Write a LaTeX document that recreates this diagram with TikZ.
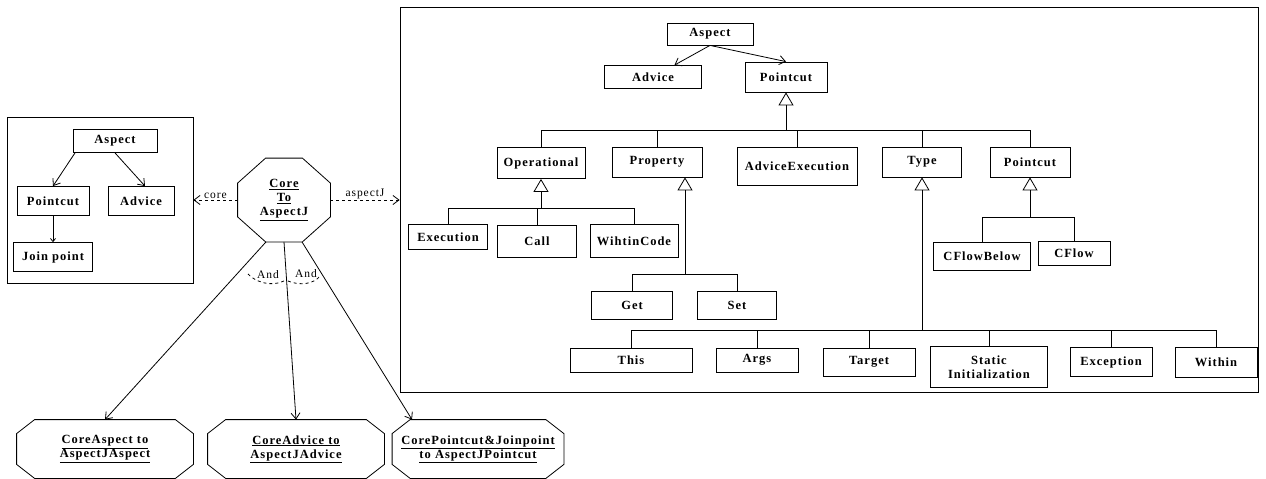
\documentclass[tikz,border=0pt]{standalone}
\usepackage{fontspec}
\setmainfont{Liberation Serif}[LetterSpace=8]
\usetikzlibrary{arrows.meta}

\tikzset{
  cls/.style={draw,line width=0.8pt,inner sep=1pt,align=center},
  oct/.style={align=center,inner sep=0pt},
  inh/.style={-{Triangle[open,length=13pt,width=15pt]}},
  lbl/.style={font=\mdseries\fontsize{11.5}{12}\selectfont,inner sep=1pt}
}
% octagon outline round a named node: name, x chamfer, y chamfer
\newcommand\octframe[3]{%
  \draw ([xshift=#2]#1.north west) -- ([xshift=-#2]#1.north east)
    -- ([yshift=-#3]#1.north east) -- ([yshift=#3]#1.south east)
    -- ([xshift=-#2]#1.south east) -- ([xshift=#2]#1.south west)
    -- ([yshift=#3]#1.south west) -- ([yshift=-#3]#1.north west) -- cycle;}

\begin{document}
\begin{tikzpicture}[x=1pt,y=-1pt,line width=0.8pt,
  >={Straight Barb[length=6pt,width=9pt]},
  every node/.style={font=\bfseries\fontsize{12.5}{14}\selectfont}]
\useasboundingbox (0,0) rectangle (1266,479);

% left model
\node[draw,minimum width=186,minimum height=166] (lframe) at (100,200) {};
\node[cls,minimum width=84,minimum height=23] (l-asp) at (115,141) {Aspect};
\node[cls,minimum width=72,minimum height=29] (l-pc) at (53,201) {Pointcut};
\node[cls,minimum width=66,minimum height=29] (l-adv) at (141,201) {Advice};
\node[cls,minimum width=79,minimum height=29] (l-jp) at (53,257) {Join point};
\draw[->] ([xshift=-40pt]l-asp.south) -- (l-pc.north);
\draw[->] (l-asp.south) -- ([xshift=4pt]l-adv.north);
\draw[->,>={Straight Barb[length=3pt,width=5pt]}] (l-pc) -- (l-jp);

% transformation
\node[oct,minimum width=92,minimum height=83] (core) at (284,200)
  {\underline{Core}\\\underline{To}\\\underline{AspectJ}};
\octframe{core}{28pt}{25pt}
\node[oct,minimum width=176,minimum height=58] (ca) at (105,449)
  {\underline{CoreAspect to}\\\underline{AspectJAspect}};
\node[oct,minimum width=176,minimum height=58] (cad) at (296,449)
  {\underline{CoreAdvice to}\\\underline{AspectJAdvice}};
\node[oct,minimum width=171,minimum height=58] (cpc) at (478,449)
  {\underline{CorePointcut\&Joinpoint}\\\underline{to AspectJPointcut}};
\foreach \n in {ca,cad,cpc} \octframe{\n}{18pt}{14pt};

% right model
\node[draw,minimum width=858,minimum height=385] (rframe) at (829,199.5) {};
\node[cls,minimum width=86,minimum height=22] (asp) at (710,34) {Aspect};
\node[cls,minimum width=97,minimum height=23] (adv) at (653,77) {Advice};
\node[cls,minimum width=82,minimum height=30] (pc) at (786,77) {Pointcut};
\node[cls,minimum width=88,minimum height=31] (op) at (541,163) {Operational};
\node[cls,minimum width=90,minimum height=30] (prop) at (657,162) {Property};
\node[cls,minimum width=120,minimum height=38] (advex) at (797,166) {AdviceExecution};
\node[cls,minimum width=79,minimum height=30] (type) at (922,162) {Type};
\node[cls,minimum width=80,minimum height=30] (pc2) at (1030,162) {Pointcut};
\node[cls,minimum width=79,minimum height=25] (exe) at (448,237) {Execution};
\node[cls,minimum width=79,minimum height=32] (call) at (537,241) {Call};
\node[cls,minimum width=88,minimum height=33] (wc) at (634,241) {WihtinCode};
\node[cls,minimum width=81,minimum height=28] (get) at (632,305) {Get};
\node[cls,minimum width=79,minimum height=28] (set) at (737,305) {Set};
\node[cls,minimum width=97,minimum height=28] (cfb) at (982,256) {CFlowBelow};
\node[cls,minimum width=72,minimum height=24] (cfl) at (1074,253) {CFlow};
\node[cls,minimum width=122,minimum height=24] (this) at (631,360) {This};
\node[cls,minimum width=82,minimum height=24] (args) at (757,360) {Args};
\node[cls,minimum width=92,minimum height=28] (target) at (869,362) {Target};
\node[cls,minimum width=117,minimum height=41] (static) at (989,367) {Static\\Initialization};
\node[cls,minimum width=82,minimum height=29] (exc) at (1111,362) {Exception};
\node[cls,minimum width=82,minimum height=30] (within) at (1216,362) {Within};

% buses
\coordinate (top) at (786,130);
\coordinate (opb) at (541,208);
\coordinate (prb) at (685,274);
\coordinate (tyb) at (922,330);
\coordinate (pcb) at (1030,217);

\draw[->] (asp.south) -- (adv);
\draw[->] (asp.south) -- (pc.north);
\draw[inh] (top) -- (pc);
\foreach \n in {op,prop,advex,type,pc2} \draw (\n.north) |- (top);
\draw[inh] (opb) -- (op);
\foreach \n in {exe,call,wc} \draw (\n.north) |- (opb);
\draw[inh] (prb) -- (prb |- prop.south);
\foreach \n in {get,set} \draw (\n.north) |- (prb);
\draw[inh] (tyb) -- (type);
\foreach \n in {this,args,target,static,exc,within} \draw (\n.north) |- (tyb);
\draw[inh] (pcb) -- (pc2);
\foreach \n in {cfb,cfl} \draw (\n.north) |- (pcb);

% links from the transformation
\draw[dashed,->] (core.west) -- (core.west -| lframe.east) node[lbl,midway,above] {core};
\draw[dashed,->] (core.east) -- (core.east -| rframe.west) node[lbl,midway,above] {aspectJ};
\draw[->] ([xshift=-18pt]core.south) -- (ca.north);
\draw[->] (core.south) -- (cad.north);
\draw[->] ([xshift=18pt]core.south) -- ([xshift=-66pt]cpc.north);
\draw[dashed] (248,274) .. controls (260,286) and (278,286) .. (287,279);
\draw[dashed] (288,281) .. controls (300,286) and (314,284) .. (320,276);
\node[lbl] (and1) at (268,275) {And};
\node[lbl] (and2) at (306,274) {And};
\end{tikzpicture}
\end{document}
